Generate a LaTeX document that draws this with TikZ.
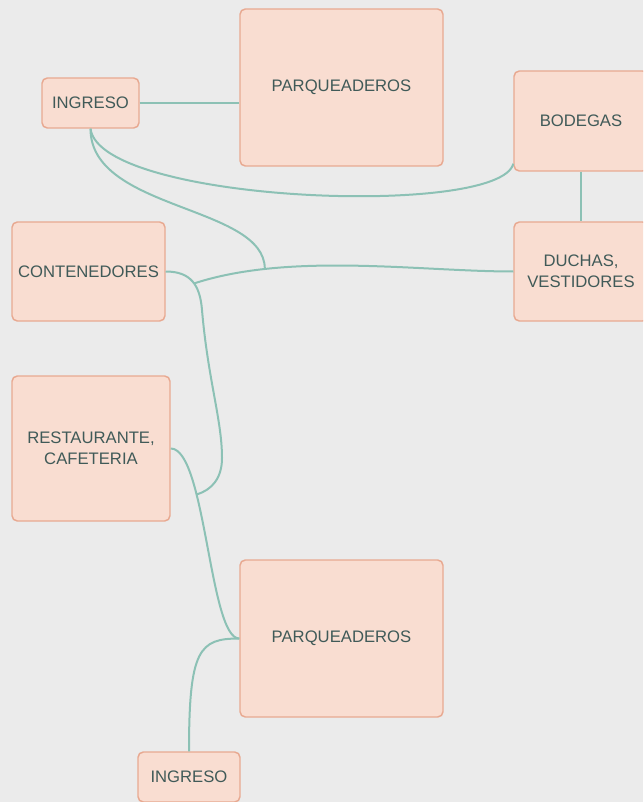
\documentclass[tikz,border=0pt]{standalone}
\usepackage{fontspec}
\setmainfont{Liberation Sans}
\usetikzlibrary{calc}

\definecolor{paper}{HTML}{EBEBEB}
\definecolor{roomfill}{HTML}{F9DDD1}
\definecolor{roomline}{HTML}{E8A991}
\definecolor{roomtext}{HTML}{405A58}
\definecolor{wirecol}{HTML}{8CC1B5}

\tikzset{
  room/.style={draw=roomline, fill=roomfill, line width=1.1pt, rounded corners=4pt,
    text=roomtext, font=\fontsize{12.5}{15.5}\selectfont, align=center, inner sep=0pt},
  wire/.style={draw=wirecol, line width=1.5pt}
}

\begin{document}
\begin{tikzpicture}[x=0.75pt,y=-0.75pt]
  \useasboundingbox (0,0) rectangle (643,802);
  \clip (0,0) rectangle (643,802);
  \fill[paper] (0,0) rectangle (643,802);

  % areas
  \node[room, minimum width=72.75pt, minimum height=37.5pt] (ingA) at (90.5,103) {INGRESO};
  \node[room, minimum width=152.25pt, minimum height=117.75pt] (parqA) at (341.5,87.5) {PARQUEADEROS};
  \node[room, minimum width=100.5pt, minimum height=75pt] (bodegas) at (581,121) {BODEGAS};
  \node[room, minimum width=100.5pt, minimum height=74.25pt] (duchas) at (581,271.5) {DUCHAS,\\VESTIDORES};
  \node[room, minimum width=114.75pt, minimum height=74.25pt] (contenedores) at (88.5,271.5) {CONTENEDORES};
  \node[room, minimum width=118.5pt, minimum height=108.75pt] (restaurante) at (91,448.5) {RESTAURANTE,\\CAFETERIA};
  \node[room, minimum width=152.25pt, minimum height=117.75pt] (parqB) at (341.5,638.5) {PARQUEADEROS};
  \node[room, minimum width=76.5pt, minimum height=37.5pt] (ingB) at (189,777) {INGRESO};

  % links
  \draw[wire] (ingA.east) -- (ingA.east -| parqA.west);
  \draw[wire] (bodegas.south) -- (duchas.north);
  \draw[wire] (restaurante.east) .. controls +(35,0) and +(-30,0) .. (parqB.west)
    coordinate[pos=0.32] (jE);
  \draw[wire] (ingB.north) .. controls +(0,-102) and +(-40,0) .. (parqB.west);
  \draw[wire] (contenedores.east) .. controls +(25,0) and (200,285) .. (202,310)
    coordinate[pos=0.55] (jD)
    .. controls (208,380) and (222,420) .. (222,458)
    .. controls (222,478) and (212,490) .. (jE);
  \draw[wire] (jD) .. controls (290,252) and (420,271.5) .. (duchas.west)
    coordinate[pos=0.23] (jC);
  \draw[wire] (ingA.south) .. controls +(0,82) and +(0,-64) .. (jC);
  \draw[wire] (ingA.south) .. controls (100,203) and (500,218) .. ($(bodegas.south west)+(0,-8)$);
\end{tikzpicture}
\end{document}
